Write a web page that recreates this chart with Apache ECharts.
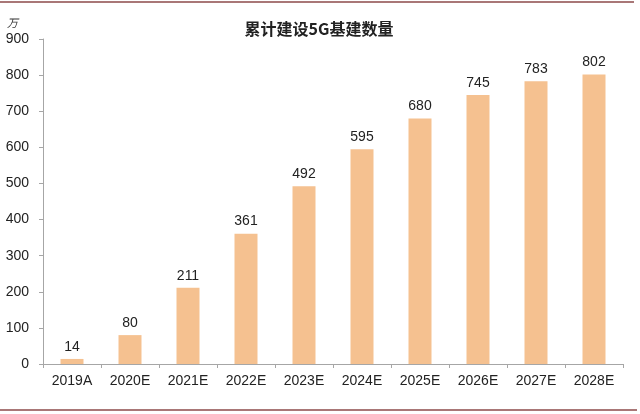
<!DOCTYPE html>
<html>
<head>
<meta charset="utf-8">
<script src="https://cdn.jsdelivr.net/npm/echarts@6/dist/echarts.min.js"></script>
<style>
html,body{margin:0;padding:0;background:#fff;}
#c{width:640px;height:414px;}
</style>
</head>
<body>
<div id="c"></div>
<script>
var categories = ['2019A','2020E','2021E','2022E','2023E','2024E','2025E','2026E','2027E','2028E'];
var values = [14, 80, 211, 361, 492, 595, 680, 745, 783, 802];
var titleText = '累计建设5G基建数量';
var unitText = '万';

var chart = echarts.init(document.getElementById('c'));
chart.setOption({
  animation: false,
  backgroundColor: '#ffffff',
  title: {
    text: titleText,
    left: 314,
    textAlign: 'center',
    top: 16,
    textStyle: {fontFamily: 'Noto Sans CJK SC', fontSize: 16, fontWeight: 'bold', color: '#222'}
  },
  graphic: [
    {type: 'line', shape: {x1: 0, y1: 2, x2: 634, y2: 2}, style: {stroke: '#8c4a4a', lineWidth: 1.5}},
    {type: 'line', shape: {x1: 0, y1: 410, x2: 637, y2: 410}, style: {stroke: '#8c4a4a', lineWidth: 1.5}},
    {type: 'text', left: 7, top: 17, style: {text: unitText, font: 'italic 11px "Noto Sans CJK SC"', fill: '#333'}}
  ],
  grid: {left: 43, right: 17, top: 39, bottom: 50},
  xAxis: {
    type: 'category',
    data: categories,
    axisLine: {lineStyle: {color: '#a6a6a6', width: 1}},
    axisTick: {show: true, length: 4, lineStyle: {color: '#a6a6a6'}},
    axisLabel: {color: '#222', fontSize: 14, fontFamily: 'Liberation Sans', margin: 10}
  },
  yAxis: {
    type: 'value',
    min: 0, max: 900, interval: 100,
    axisLine: {show: true, lineStyle: {color: '#a6a6a6', width: 1}},
    axisTick: {show: true, length: 4, lineStyle: {color: '#a6a6a6'}},
    splitLine: {show: false},
    axisLabel: {color: '#222', fontSize: 14, fontFamily: 'Liberation Sans', margin: 14}
  },
  series: [{
    type: 'bar',
    data: values,
    barWidth: 23,
    itemStyle: {color: '#f5c190'},
    label: {show: true, position: 'top', distance: 5, color: '#222', fontSize: 14, fontFamily: 'Liberation Sans'}
  }]
});
</script>
</body>
</html>
